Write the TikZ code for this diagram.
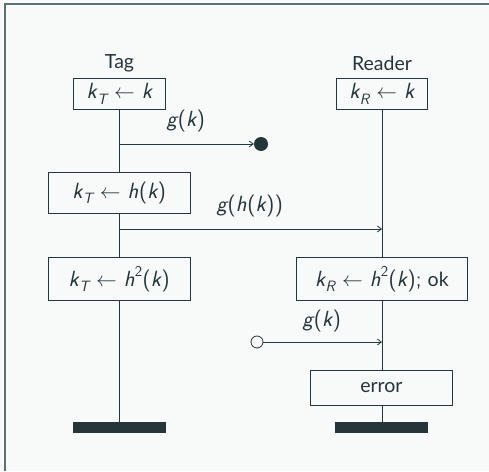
\documentclass[tikz,border=0pt]{standalone}
\usepackage{fontspec}
\setmainfont{Lato}
\usetikzlibrary{arrows.meta}
\definecolor{ink}{HTML}{253539}
\definecolor{paper}{HTML}{F8F9F9}
\definecolor{rim}{HTML}{5F7073}
% sans-serif math-style symbols
\newcommand{\mv}[1]{{\fontsize{22}{24}\selectfont\sffamily\slshape #1\kern0.4pt}}
\newcommand{\lp}{{\fontsize{22}{24}\selectfont\sffamily\kern0.4pt(\kern0.2pt}}
\newcommand{\rp}{{\fontsize{22}{24}\selectfont\sffamily\kern0.2pt)\kern0.4pt}}
\newcommand{\ksub}[1]{\raisebox{-0.28em}{\fontsize{15}{15}\selectfont\sffamily\slshape #1}}
\newcommand{\ksup}[1]{\raisebox{0.5em}{\fontsize{15}{15}\selectfont\sffamily #1}}
\newcommand{\assign}{\hspace{7pt}{\fontsize{21}{22}\selectfont$\leftarrow$}\hspace{7pt}}
\begin{document}
\begin{tikzpicture}[x=1pt,y=-1pt,
  font=\fontsize{19.5}{22}\selectfont, text=ink,
  act/.style={draw=ink, line width=0.8pt, fill=paper, inner sep=0pt, anchor=north west},
  life/.style={draw=ink, line width=1pt},
  msg/.style={draw=ink, line width=0.8pt, -{Straight Barb[length=4pt,width=6pt]}},
  endbar/.style={fill=ink, draw=none},
  lbl/.style={inner sep=0pt}]
  % page
  \fill[paper] (0,0) rectangle (489,471);
  \useasboundingbox (0,0) rectangle (489,471);
  \draw[rim, line width=2pt] (5,471) -- (5,4) -- (489,4);

  % participant names
  \node[lbl] (tag) at (119.5,63) {Tag};
  \node[lbl] (reader) at (382,63) {Reader};

  % action boxes
  \node[act, minimum width=92pt, minimum height=31pt] (t1) at (73,78) {};
  \node at (t1.center) {\mv{k}\ksub{T}\assign\mv{k}};
  \node[act, minimum width=91pt, minimum height=31pt] (r1) at (336,78) {};
  \node at (r1.center) {\mv{k}\ksub{R}\assign\mv{k}};
  \node[act, minimum width=142pt, minimum height=41pt] (t2) at (48,172) {};
  \node at (t2.center) {\mv{k}\ksub{T}\assign\mv{h}\lp\mv{k}\rp};
  \node[act, minimum width=142pt, minimum height=43pt] (t3) at (48,257) {};
  \node at (t3.center) {\mv{k}\ksub{T}\assign\mv{h}\ksup{2}\lp\mv{k}\rp};
  \node[act, minimum width=171pt, minimum height=43pt] (r2) at (296,257) {};
  \node at (r2.center) {\mv{k}\ksub{R}\assign\mv{h}\ksup{2}\lp\mv{k}\rp{\fontsize{22}{24}\selectfont\sffamily;}\hspace{6pt}ok};
  \node[act, minimum width=142pt, minimum height=35pt] (r3) at (310,370) {};
  \node at (r3.center) {error};

  % end bars
  \path[endbar] (73,422) rectangle (166,433);
  \coordinate (tend) at (119.5,422);
  \path[endbar] (335,422) rectangle (428,433);
  \coordinate (rend) at (382,422);

  % lifelines
  \draw[life] (t1.south -| tag) -- (t2.north -| tag);
  \draw[life] (t2.south -| tag) -- (t3.north -| tag);
  \draw[life] (t3.south -| tag) -- (tend);
  \draw[life] (r1.south -| reader) -- (r2.north -| reader);
  \draw[life] (r2.south -| reader) -- (r3.north -| reader);
  \draw[life] (r3.south -| reader) -- (rend);

  % messages
  \coordinate (m1s) at (119.5,144);
  \node[circle, fill=ink, inner sep=0pt, minimum size=14pt] (lost) at (261,144) {};
  \draw[msg] (m1s) -- (lost.west);
  \node[lbl] (m1l) at (186,121) {\mv{g}\lp\mv{k}\rp};

  \coordinate (m2s) at (119.5,229);
  \coordinate (m2e) at (382,229);
  \draw[msg] (m2s) -- (m2e);
  \node[lbl] (m2l) at (250,206) {\mv{g}\lp\mv{h}\lp\mv{k}\rp\rp};

  \node[circle, draw=ink, fill=paper, line width=0.8pt, inner sep=0pt, minimum size=12pt] (found) at (257,342) {};
  \coordinate (m3e) at (382,342);
  \draw[msg] (found.east) -- (m3e);
  \node[lbl] (m3l) at (322,321) {\mv{g}\lp\mv{k}\rp};
\end{tikzpicture}
\end{document}
